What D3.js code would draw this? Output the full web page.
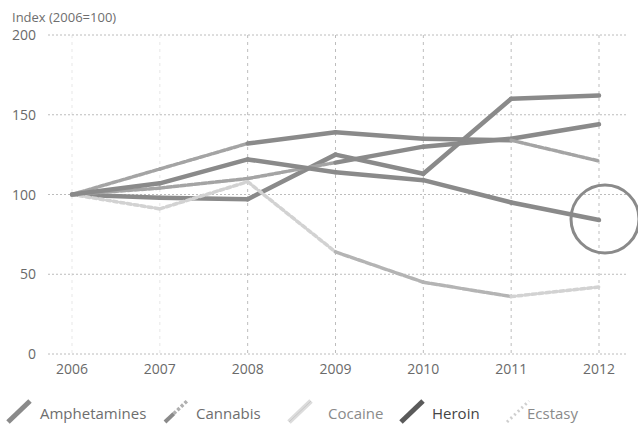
<!DOCTYPE html>
<html><head><meta charset="utf-8">
<script src="https://cdn.jsdelivr.net/npm/d3@7"></script>
<style>
html,body{margin:0;padding:0;background:#fff;}
svg{display:block;font-family:"Open Sans",sans-serif;}
</style></head>
<body>
<svg id="chart" width="638" height="430"></svg>
<script>
const years = ["2006","2007","2008","2009","2010","2011","2012"];
const yTicks = [0, 50, 100, 150, 200];
const seriesNames = ["Amphetamines","Cannabis","Cocaine","Heroin","Ecstasy"];
const amphetamines = [100, 98, 97, 125, 113, 160, 162];
const cannabis     = [100, 116, 132, 139, 135, 134, 121];
const cocaine      = [100, 104, 110, 120, 130, 135, 144];
const heroin       = [100, 107, 122, 114, 109, 95, 84];
const ecstasy      = [100, 91, 108, 64, 45, 36, 42];
const yTitle = "Index (2006=100)";
const highlightYear = "2012";
const highlightValue = 84;

const svg = d3.select("#chart");
const x = d3.scalePoint().domain(years).range([72, 599]);
const y = d3.scaleLinear().domain([0, 200]).range([354, 35]);

// title
svg.append("text").attr("x", 12).attr("y", 22).attr("fill", "#6e6e6e")
  .attr("font-size", 13).text(yTitle);

// horizontal grid
const gH = svg.append("g");
gH.selectAll("line").data(yTicks).join("line")
  .attr("x1", 48).attr("x2", 626)
  .attr("y1", d => y(d)).attr("y2", d => y(d))
  .attr("stroke", "#bcbcbc").attr("stroke-width", 1)
  .attr("stroke-dasharray", "2,2");
gH.selectAll("text").data(yTicks).join("text")
  .attr("x", 36).attr("y", d => y(d) + 5).attr("text-anchor", "end")
  .attr("font-size", 14).attr("fill", "#6a6a6a").text(d => d);

// vertical grid
svg.append("g").selectAll("line").data(years).join("line")
  .attr("x1", d => x(d)).attr("x2", d => x(d))
  .attr("y1", y(200)).attr("y2", y(0))
  .attr("stroke", "#bdbdbd").attr("stroke-width", 1)
  .attr("stroke-dasharray", "3,4")
  .attr("opacity", (d, i) => i < 2 ? 0.35 : 1);

// x labels
svg.append("g").selectAll("text").data(years).join("text")
  .attr("x", d => x(d)).attr("y", 374).attr("text-anchor", "middle")
  .attr("font-size", 14).attr("fill", "#6a6a6a").text(d => d);

// series with per-segment styling
const solid = {stroke: "#8a8a8a", width: 4.5, dash: null};
const midDash = {stroke: "#a4a4a4", width: 3.5, dash: "5,2"};
const light = {stroke: "#d2d2d2", width: 3.5, dash: "4,3"};
const lightMid = {stroke: "#b4b4b4", width: 3.5, dash: "6,2"};
const seriesData = [
  {name: "Amphetamines", values: amphetamines, seg: [solid, solid, solid, solid, solid, solid]},
  {name: "Cocaine", values: cocaine, seg: [midDash, midDash, midDash, solid, solid, solid]},
  {name: "Cannabis", values: cannabis, seg: [midDash, midDash, solid, solid, solid, midDash]},
  {name: "Ecstasy", values: ecstasy, seg: [light, light, light, lightMid, lightMid, light]},
  {name: "Heroin", values: heroin, seg: [solid, solid, solid, solid, solid, solid]}
];
const line = d3.line().x(d => x(d.year)).y(d => y(d.value));
seriesData.forEach(s => {
  const pts = years.map((yr, i) => ({year: yr, value: s.values[i]}));
  const g = svg.append("g");
  for (let i = 0; i < pts.length - 1; i++) {
    const st = s.seg[i];
    g.append("path").attr("d", line([pts[i], pts[i + 1]]))
      .attr("fill", "none").attr("stroke", st.stroke)
      .attr("stroke-width", st.width).attr("stroke-linecap", "round")
      .attr("stroke-dasharray", st.dash);
  }
});

// highlight circle
svg.append("circle").attr("cx", x(highlightYear) + 6).attr("cy", y(highlightValue) - 1)
  .attr("r", 34).attr("fill", "none").attr("stroke", "#8a8a8a").attr("stroke-width", 3);

// legend
const legendItems = [
  {name: "Amphetamines", ix: 8, tx: 40, color: "#6e6e6e", icon: [{c: "#8a8a8a", w: 5, d: null, f: 0, t: 1}]},
  {name: "Cannabis", ix: 165, tx: 196, color: "#6e6e6e", icon: [{c: "#8a8a8a", w: 4, d: null, f: 0, t: 0.4}, {c: "#b0b0b0", w: 3.5, d: "3,2", f: 0.4, t: 1}]},
  {name: "Cocaine", ix: 289, tx: 328, color: "#8a8a8a", icon: [{c: "#dcdcdc", w: 5, d: null, f: 0, t: 1}, {c: "#c8c8c8", w: 1, d: null, f: 0, t: 1}]},
  {name: "Heroin", ix: 401, tx: 432, color: "#454545", icon: [{c: "#5a5a5a", w: 5, d: null, f: 0, t: 1}]},
  {name: "Ecstasy", ix: 507, tx: 527, color: "#8a8a8a", icon: [{c: "#cfcfcf", w: 3, d: "2,3", f: 0, t: 1}]}
];
const lg = svg.append("g");
legendItems.forEach(it => {
  const x0 = it.ix, y0 = 422, x1 = it.ix + 22, y1 = 401;
  it.icon.forEach(p => {
    lg.append("line")
      .attr("x1", x0 + (x1 - x0) * p.f).attr("y1", y0 + (y1 - y0) * p.f)
      .attr("x2", x0 + (x1 - x0) * p.t).attr("y2", y0 + (y1 - y0) * p.t)
      .attr("stroke", p.c).attr("stroke-width", p.w).attr("stroke-dasharray", p.d);
  });
  lg.append("text").attr("x", it.tx).attr("y", 419).attr("font-size", 15)
    .attr("fill", it.color).text(it.name);
});
</script>
</body></html>
